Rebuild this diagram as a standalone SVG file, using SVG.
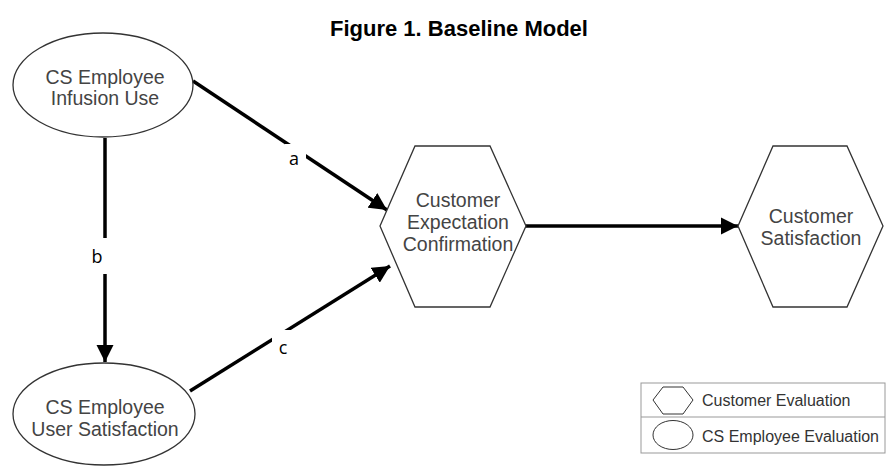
<svg xmlns="http://www.w3.org/2000/svg" width="886" height="466" viewBox="0 0 886 466">
<style>
.node{fill:#fff;stroke:#333;stroke-width:1.3}
.nt{font-family:"Liberation Sans",Arial,sans-serif;font-size:19.5px;fill:#444;text-anchor:middle;dominant-baseline:central}
.edge{stroke:#000;stroke-width:3.5;fill:none}
.lbl{font-family:"Open Sans","DejaVu Sans",sans-serif;font-size:18px;fill:#000;text-anchor:middle;dominant-baseline:central}
.lt{font-family:"Liberation Sans",Arial,sans-serif;font-size:16px;fill:#333;dominant-baseline:central}
</style>
<defs>
<marker id="arr" viewBox="0 0 10 10" refX="10" refY="5" markerWidth="5" markerHeight="5" markerUnits="strokeWidth" orient="auto">
<path d="M0,0 L10,5 L0,10 z" fill="#000"/>
</marker>
</defs>
<rect width="886" height="466" fill="#fff"/>
<text x="459" y="28" font-family="Liberation Sans,Arial,sans-serif" font-size="22" font-weight="bold" text-anchor="middle" dominant-baseline="central" fill="#000">Figure 1. Baseline Model</text>

<g id="connectors">
<line class="edge" x1="193" y1="81" x2="387" y2="210" marker-end="url(#arr)"/>
<line class="edge" x1="105" y1="138" x2="105" y2="362" marker-end="url(#arr)"/>
<line class="edge" x1="190" y1="391" x2="390" y2="266" marker-end="url(#arr)"/>
<line class="edge" x1="526" y1="226" x2="738" y2="226" marker-end="url(#arr)"/>
<rect x="285" y="144" width="21" height="28" fill="#fff"/>
<text class="lbl" x="294" y="158">a</text>
<rect x="87" y="238" width="22" height="36" fill="#fff"/>
<text class="lbl" x="97" y="256">b</text>
<rect x="272" y="330" width="22" height="30" fill="#fff"/>
<text class="lbl" x="283" y="347">c</text>
</g>

<g id="n-infusion">
<ellipse class="node" cx="103" cy="85" rx="90" ry="52"/>
<text class="nt" x="105" y="77">CS Employee</text>
<text class="nt" x="105" y="98">Infusion Use</text>
</g>

<g id="n-usersat">
<ellipse class="node" cx="104" cy="414" rx="91" ry="51"/>
<text class="nt" x="105" y="407">CS Employee</text>
<text class="nt" x="105" y="429">User Satisfaction</text>
</g>

<g id="n-expect">
<polygon class="node" points="380,226 415,146 490,146 526,226 490,307 415,307"/>
<text class="nt" x="458" y="200">Customer</text>
<text class="nt" x="458" y="222">Expectation</text>
<text class="nt" x="458" y="244">Confirmation</text>
</g>

<g id="n-custsat">
<polygon class="node" points="738,226 773,146 847,146 883,226 847,307 773,307"/>
<text class="nt" x="811" y="216">Customer</text>
<text class="nt" x="811" y="238">Satisfaction</text>
</g>

<g id="legend">
<rect x="641" y="383" width="244" height="70" fill="#fff" stroke="#999" stroke-width="1"/>
<line x1="641" y1="417" x2="885" y2="417" stroke="#999" stroke-width="1"/>
<polygon points="653,400 663,387 683,387 693,400 683,414 663,414" fill="#fff" stroke="#333" stroke-width="1"/>
<text class="lt" x="702" y="400">Customer Evaluation</text>
<ellipse cx="673" cy="435" rx="20" ry="14.5" fill="#fff" stroke="#333" stroke-width="1"/>
<text class="lt" x="702" y="436">CS Employee Evaluation</text>
</g>
</svg>
